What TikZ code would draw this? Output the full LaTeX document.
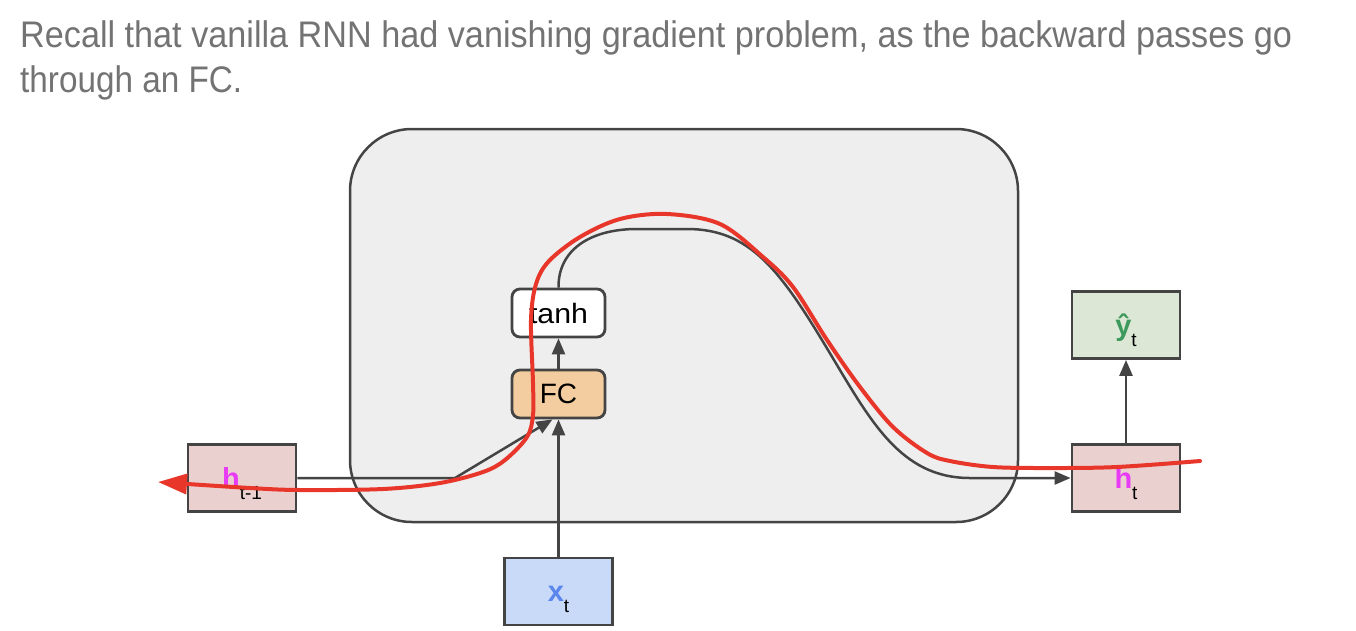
\documentclass[tikz,border=0pt]{standalone}
\usepackage{fontspec}
\setmainfont{Liberation Sans}
\usepackage{graphicx}
\usetikzlibrary{arrows.meta}
\definecolor{edge}{HTML}{444444}
\definecolor{cellgray}{HTML}{EEEEEE}
\definecolor{titlegray}{HTML}{737373}
\definecolor{hfill}{HTML}{EBD0D0}
\definecolor{fcfill}{HTML}{F3CDA0}
\definecolor{yfill}{HTML}{DCE8D5}
\definecolor{xfill}{HTML}{C9DAF8}
\definecolor{hmag}{HTML}{E83BF5}
\definecolor{xblue}{HTML}{5A86EE}
\definecolor{ygreen}{HTML}{3E9A5C}
\definecolor{gradred}{HTML}{E8362A}
\newcommand{\sublbl}[1]{\raisebox{-11pt}[0pt][0pt]{\mdseries\fontsize{19}{19}\selectfont\color{black}#1}}
\begin{document}
\begin{tikzpicture}[x=1pt,y=-1pt,
  varbox/.style={draw=edge, line width=2.8pt, minimum width=108pt, minimum height=67pt,
    inner sep=0pt, text height=20pt, text depth=0pt, font=\fontsize{29}{29}\selectfont\bfseries},
  opbox/.style={draw=edge, line width=2.8pt, rounded corners=8pt, minimum width=93pt,
    minimum height=48pt, inner sep=0pt, font=\fontsize{28}{28}\selectfont},
  cellbox/.style={draw=edge, fill=cellgray, line width=2.5pt, rounded corners=62pt,
    minimum width=668pt, minimum height=393pt, inner sep=0pt},
  conn/.style={draw=edge, line width=2.5pt, -{Triangle[length=16pt,width=13pt]}},
  gradpath/.style={draw=gradred, line width=4pt, line cap=round, line join=round,
    -{Triangle[length=29pt,width=20pt]}},
  titletext/.style={anchor=base west, inner sep=0pt, text=titlegray,
    font=\fontsize{37}{37}\selectfont},
]
\useasboundingbox (0,0) rectangle (1356,630);

\node[titletext] (title1) at (20,47) {\resizebox{1272pt}{\height}{Recall that vanilla RNN had vanishing gradient problem, as the backward passes go}};
\node[titletext] (title2) at (20,92) {\resizebox{222pt}{\height}{through an FC.}};

\node[cellbox] (cell) at (684,325.5) {};

\node[varbox, fill=hfill] (hprev) at (242,478) {\textcolor{hmag}{h}\sublbl{t-1}};
\node[varbox, fill=hfill] (ht) at (1126,478) {\textcolor{hmag}{h}\sublbl{t}};
\node[varbox, fill=yfill] (yhat) at (1126,325) {\textcolor{ygreen}{ŷ}\sublbl{t}};
\node[varbox, fill=xfill] (xt) at (558.5,591.5) {\textcolor{xblue}{x}\sublbl{t}};
\node[opbox, fill=white] (tanh) at (558.5,313) {\resizebox{59pt}{\height}{tanh}};
\node[opbox, fill=fcfill] (fc) at (558.5,394) {FC};

\coordinate (bend1) at (455,478);
\coordinate (top1) at (637,229);
\coordinate (top2) at (687,229);
\coordinate (low1) at (970,478);

\draw[conn] (hprev.east) -- (bend1) -- ([xshift=-6pt]fc.south);
\draw[conn] (xt.north) -- (fc.south);
\draw[conn] (fc.north) -- (tanh.south);
\draw[conn] (tanh.north) .. controls (558,250) and (590,229) .. (top1) -- (top2)
  .. controls (750,229) and (780,270) .. (828,350)
  .. controls (870,420) and (900,478) .. (low1) -- (ht.west);
\draw[conn] (ht.north) -- (yhat.south);

\coordinate (gradstart) at (1200,461);
\coordinate (gradend) at (158,482);
\draw[gradpath] plot[smooth, tension=0.55] coordinates {
  (1200,461) (1117,467) (1050,468) (993,467) (950,461) (927,453) (893,427)
  (860,387) (827,340) (793,287) (763,257) (720,224) (667,214) (620,219)
  (580,237) (549,261) (536,284) (531,320) (533,383) (533,415) (527,437)
  (505,460) (483,472) (440,483) (383,489) (300,490) (250,488) (158,482)};
\end{tikzpicture}
\end{document}
